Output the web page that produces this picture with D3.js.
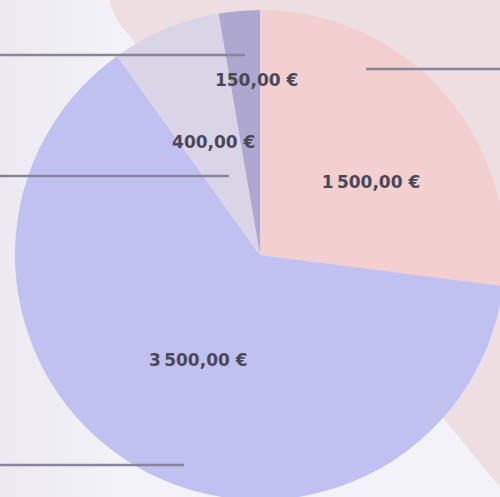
<!DOCTYPE html>
<html>
<head>
<meta charset="utf-8">
<script src="https://cdn.jsdelivr.net/npm/d3@7"></script>
<style>
  html, body { margin: 0; padding: 0; background: #f3f2f7; }
  svg { display: block; }
</style>
</head>
<body>
<div id="chartContainer"></div>
<script>
// Slice data (clockwise from 12 o'clock)
const categories = ["A", "B", "C", "D"];
const amounts = [1500, 3500, 400, 150];
const sliceColors = ["#f4cfd0", "#c1c1f1", "#d9d5e6", "#aea7cf"];

// Label nudges away from the arc centroid (to avoid overlap)
const labelNudge = [[19, 8], [1, 0], [1, 0], [7, -53]];

// Decorative horizontal rules [x1, x2, y]
const rules = [[0, 245, 55], [0, 229, 176], [0, 184, 465], [366, 500, 69]];

// Declare the chart dimensions.
const width = 500;
const height = 497;
const cx = 260;
const cy = 255;
const radius = 245;

// French-style currency formatting
const fr = d3.formatLocale({
    decimal: ",",
    thousands: "\u202f",
    grouping: [3],
    currency: ["", "\u00a0€"]
});
const fmt = fr.format("$,.2f");

// Create the SVG container.
const svg = d3.create("svg")
    .attr("width", width)
    .attr("height", height)
    .attr("viewBox", [0, 0, width, height]);

// Background gradient
const defs = svg.append("defs");
const grad = defs.append("linearGradient")
    .attr("id", "bg")
    .attr("x1", 0).attr("x2", 1).attr("y1", 0).attr("y2", 0);
grad.append("stop").attr("offset", 0).attr("stop-color", "#eceaf0");
grad.append("stop").attr("offset", 0.25).attr("stop-color", "#f3f2f7");
grad.append("stop").attr("offset", 1).attr("stop-color", "#f3f2f7");

svg.append("rect")
    .attr("width", width)
    .attr("height", height)
    .attr("fill", "url(#bg)");

// Pink diagonal band in the top right
svg.append("rect")
    .attr("transform", "translate(85,-18) rotate(50.6)")
    .attr("x", 0)
    .attr("y", -1200)
    .attr("width", 1200)
    .attr("height", 1200)
    .attr("rx", 59)
    .attr("fill", "#ecdee1");

// Pie
const pie = d3.pie().sort(null).value(d => d.value);
const arc = d3.arc().innerRadius(0).outerRadius(radius);

const data = categories.map((c, i) => ({ name: c, value: amounts[i], i }));
const arcs = pie(data);

const g = svg.append("g").attr("transform", `translate(${cx},${cy})`);

g.selectAll("path")
    .data(arcs)
    .join("path")
    .attr("d", arc)
    .attr("fill", d => sliceColors[d.data.i]);

// Decorative rules drawn over the pie
svg.append("g")
    .selectAll("line")
    .data(rules)
    .join("line")
    .attr("x1", d => d[0])
    .attr("x2", d => d[1])
    .attr("y1", d => d[2])
    .attr("y2", d => d[2])
    .attr("stroke", "#88859a")
    .attr("stroke-width", 2.5);

// Labels
g.selectAll("text")
    .data(arcs)
    .join("text")
    .attr("transform", d => {
        const [x, y] = arc.centroid(d);
        const n = labelNudge[d.data.i];
        return `translate(${x + n[0]},${y + n[1]})`;
    })
    .attr("text-anchor", "middle")
    .attr("dominant-baseline", "central")
    .attr("font-family", "DejaVu Sans, sans-serif")
    .attr("font-weight", "bold")
    .attr("font-size", 17)
    .attr("fill", "#4a4858")
    .text(d => fmt(d.data.value));

document.getElementById('chartContainer').appendChild(svg.node());
</script>
</body>
</html>
